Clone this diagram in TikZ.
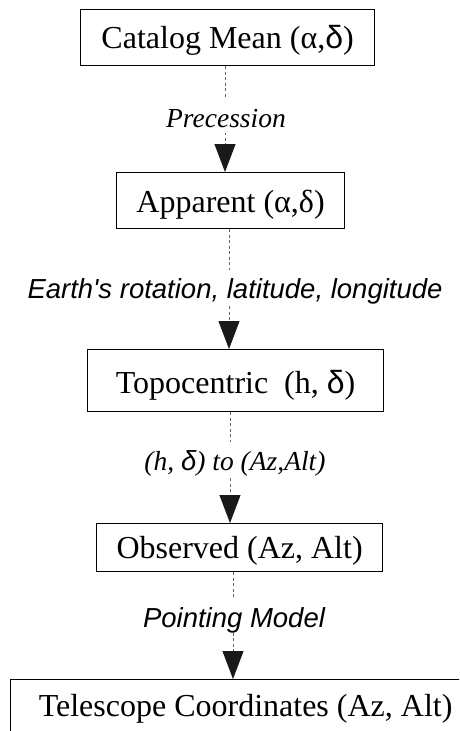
\documentclass[tikz,border=0pt]{standalone}
\usepackage{fontspec}
\setmainfont{Liberation Serif}
\setsansfont{Liberation Sans}
\usetikzlibrary{arrows.meta, positioning}
\definecolor{dashGray}{HTML}{666666}

\tikzset{
  stage/.style={draw, line width=1.2pt, anchor=north west, inner xsep=0pt, inner ysep=0pt,
    font=\fontsize{32}{36}\selectfont},
  flow/.style={dashGray, line width=0.9pt, dash pattern=on 3pt off 2.5pt,
    -{Triangle[length=28pt, width=21pt, fill=black!90, color=black!90]}},
  hop/.style={anchor=base, fill=white, inner xsep=2pt, inner ysep=0pt,
    text height=28pt, text depth=6pt, font=\fontsize{27.5}{30}\selectfont\itshape},
  hopsans/.style={hop, font=\fontsize{27.5}{30}\selectfont\sffamily\itshape}
}

\begin{document}
\begin{tikzpicture}[x=1pt, y=-1pt]
    \useasboundingbox (0,0) rectangle (459,731);
    \clip (0,0) rectangle (459,731);

    % coordinate frames
    \node[stage, minimum width=294pt, text height=39pt, text depth=17pt] (catalog) at (80,9)
      {Catalog Mean (α,{\sffamily δ})};
    \node[stage, minimum width=228pt, text height=40pt, text depth=16pt] (apparent) at (116,172)
      {Apparent (α,δ)};
    \node[stage, minimum width=296pt, text height=44pt, text depth=18pt] (topo) at (87,349)
      {Topocentric\ \ (h, {\sffamily δ})};
    \node[stage, minimum width=286pt, text height=35pt, text depth=13pt] (observed) at (96,523)
      {Observed (Az, Alt)};
    \node[stage, minimum width=470pt, text height=37pt, text depth=40pt] (telescope) at (10,679)
      {Telescope Coordinates (Az, Alt)};

    % transformations
    \draw[flow] (catalog.south -| 225,0) -- (apparent.north -| 225,0);
    \draw[flow] (apparent.south -| 229,0) -- (topo.north -| 229,0);
    \draw[flow] (topo.south -| 230,0) -- (observed.north -| 230,0);
    \draw[flow] (observed.south -| 233,0) -- (telescope.north -| 233,0);

    \node[hop] (precession) at (226,127) {Precession};
    \node[hopsans] (rotation) at (235,298) {Earth\textquotesingle s rotation, latitude, longitude};
    \node[hop] (conversion) at (235,470) {(h, {\sffamily δ}) to (Az,Alt)};
    \node[hopsans] (pointing) at (234,627) {Pointing Model};
\end{tikzpicture}
\end{document}
